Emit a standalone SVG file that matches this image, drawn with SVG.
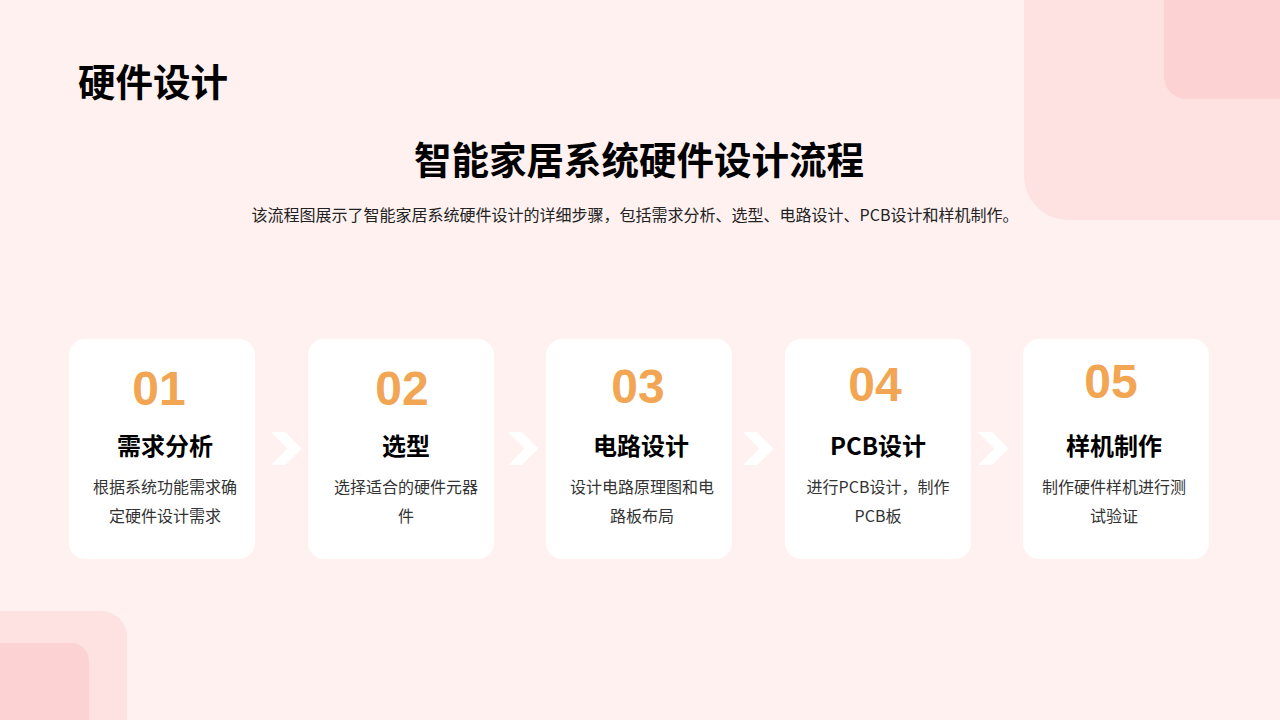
<svg xmlns="http://www.w3.org/2000/svg" width="1280" height="720" viewBox="0 0 1280 720">
<defs>
<style>
.cjk{font-family:"Noto Sans CJK SC","Liberation Sans",sans-serif;}
.card{fill:#ffffff;}
.num{font-family:"Liberation Sans",Arial,sans-serif;font-weight:700;font-size:48px;fill:#F2A552;text-anchor:middle;}
.ttl{font-family:"Noto Sans CJK SC","Liberation Sans",sans-serif;font-weight:700;font-size:24px;fill:#000;text-anchor:middle;}
.desc{font-family:"Noto Sans CJK SC","Liberation Sans",sans-serif;font-size:16px;fill:#333;text-anchor:middle;}
.chev{fill:#ffffff;}
</style>
<path id="chev" d="M0,0 H14 L30.5,16.5 L14,33 H0 L16.5,16.5 Z"/>
</defs>
<rect width="1280" height="720" fill="#FEF1F0"/>
<g id="decor">
<rect x="1024" y="-50" width="320" height="270" rx="44" fill="#FDE2E1"/>
<rect x="1164" y="-40" width="160" height="139" rx="22" fill="#FCD3D2"/>
<rect x="-50" y="611" width="177" height="160" rx="26" fill="#FDE2E1"/>
<rect x="-50" y="643" width="139" height="130" rx="18" fill="#FCD3D2"/>
</g>
<g id="header">
<text x="78" y="96" class="cjk" font-size="37.5" font-weight="700" fill="#000">硬件设计</text>
<text x="639" y="174" class="cjk" font-size="37.5" font-weight="700" fill="#000" text-anchor="middle">智能家居系统硬件设计流程</text>
<text x="635" y="221" class="cjk" font-size="16" fill="#222" text-anchor="middle">该流程图展示了智能家居系统硬件设计的详细步骤，包括需求分析、选型、电路设计、PCB设计和样机制作。</text>
</g>
<g id="connectors">
<use href="#chev" class="chev" x="271" y="432"/>
<use href="#chev" class="chev" x="508" y="432"/>
<use href="#chev" class="chev" x="743" y="432"/>
<use href="#chev" class="chev" x="978" y="432"/>
</g>
<g id="step1">
<rect class="card" x="69" y="339" width="186" height="220" rx="16"/>
<text class="num" x="159" y="405">01</text>
<text class="ttl" x="165" y="455">需求分析</text>
<text class="desc" x="165" y="493">根据系统功能需求确</text>
<text class="desc" x="165" y="522">定硬件设计需求</text>
</g>
<g id="step2">
<rect class="card" x="308" y="339" width="186" height="220" rx="16"/>
<text class="num" x="402" y="405">02</text>
<text class="ttl" x="406" y="455">选型</text>
<text class="desc" x="406" y="493">选择适合的硬件元器</text>
<text class="desc" x="406" y="522">件</text>
</g>
<g id="step3">
<rect class="card" x="546" y="339" width="186" height="220" rx="16"/>
<text class="num" x="638" y="403">03</text>
<text class="ttl" x="641" y="455">电路设计</text>
<text class="desc" x="642" y="493">设计电路原理图和电</text>
<text class="desc" x="642" y="522">路板布局</text>
</g>
<g id="step4">
<rect class="card" x="785" y="339" width="186" height="220" rx="16"/>
<text class="num" x="875" y="401">04</text>
<text class="ttl" x="878" y="455">PCB设计</text>
<text class="desc" x="878" y="493">进行PCB设计，制作</text>
<text class="desc" x="878" y="522">PCB板</text>
</g>
<g id="step5">
<rect class="card" x="1023" y="339" width="186" height="220" rx="16"/>
<text class="num" x="1111" y="398">05</text>
<text class="ttl" x="1114" y="455">样机制作</text>
<text class="desc" x="1114" y="493">制作硬件样机进行测</text>
<text class="desc" x="1114" y="522">试验证</text>
</g>
</svg>
